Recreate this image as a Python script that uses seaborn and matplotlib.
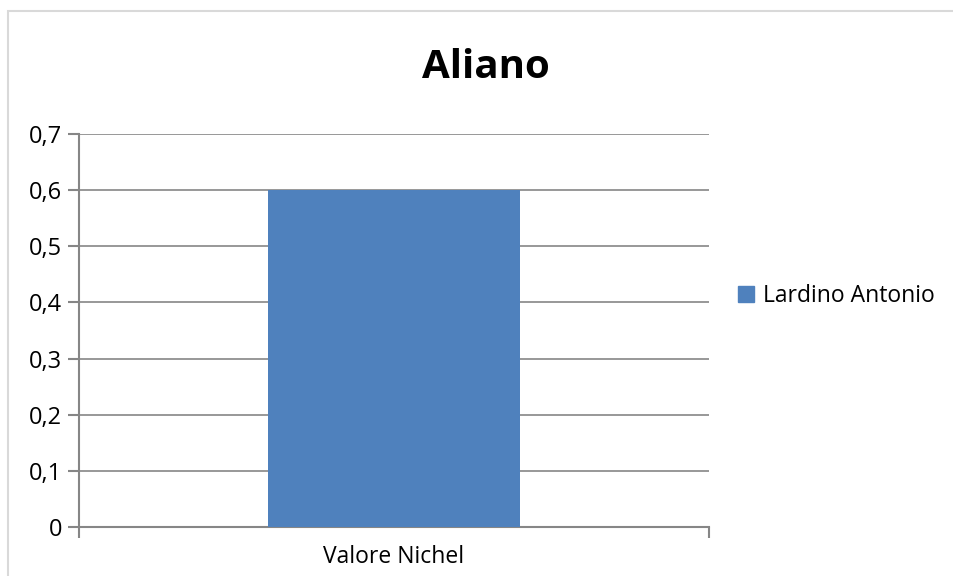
import matplotlib
matplotlib.use("Agg")
import matplotlib.pyplot as plt
import matplotlib.patches as mpatches
import seaborn as sns
import pandas as pd

# data
categories = ["Valore Nichel"]
values = [0.6]
series_name = "Lardino Antonio"
title = "Aliano"
yticks = [0, 0.1, 0.2, 0.3, 0.4, 0.5, 0.6, 0.7]
ytick_labels = ["0", "0,1", "0,2", "0,3", "0,4", "0,5", "0,6", "0,7"]

df = pd.DataFrame({"categoria": categories, "valore": values, "serie": series_name})

sns.set_style("white")
plt.rcParams["font.family"] = ["Open Sans", "DejaVu Sans"]
plt.rcParams["text.color"] = "black"
plt.rcParams["xtick.color"] = "black"
plt.rcParams["ytick.color"] = "black"

fig = plt.figure(figsize=(9.54, 5.76), dpi=100)
ax = fig.add_axes([79 / 954, 1 - 527 / 576, 630 / 954, 393 / 576])

sns.barplot(data=df, x="categoria", y="valore", hue="serie", palette=["#4F81BD"],
            width=0.4, saturation=1, ax=ax, legend=False, zorder=3, linewidth=0)

ax.set_xlim(-0.5, 0.5)
ax.set_ylim(0, 0.7)
ax.set_yticks(yticks)
ax.set_yticklabels(ytick_labels, fontsize=17)
ax.set_xlabel("")
ax.set_ylabel("")
ax.tick_params(axis="x", which="major", labelsize=16.5, length=0, pad=13, bottom=True)
ax.tick_params(axis="y", left=True, length=8, width=1.5, color="#868686", pad=4,
               direction="out", labelcolor="black")
ax.yaxis.grid(True, color="#868686", linewidth=1.2, zorder=0)
ax.set_axisbelow(True)

for side in ["top", "right"]:
    ax.spines[side].set_visible(False)
for side in ["left", "bottom"]:
    ax.spines[side].set_color("#868686")
    ax.spines[side].set_linewidth(1.5)

# category boundary tick marks below the x axis
ax.set_xticks([-0.5, 0.5], minor=True)
ax.tick_params(axis="x", which="minor", bottom=True, length=8, width=1.5,
               color="#868686", direction="out")

fig.text(486 / 954, 1 - 68 / 576, title, fontsize=29, fontweight="bold",
         ha="center", va="center", color="black")

handle = mpatches.Patch(color="#4F81BD", label=series_name)
fig.legend(handles=[handle], loc="center left", bbox_to_anchor=(717 / 954, 1 - 296 / 576),
           frameon=False, fontsize=16.5, handlelength=0.7, handleheight=0.7,
           handletextpad=0.4)

# chart border
fig.patches.append(mpatches.Rectangle((8 / 954, -0.1), 1.2, 1 - 11 / 576 + 0.1,
                                      transform=fig.transFigure, fill=False,
                                      edgecolor="#D9D9D9", linewidth=1.5))

fig.savefig("out.png", dpi=100)
